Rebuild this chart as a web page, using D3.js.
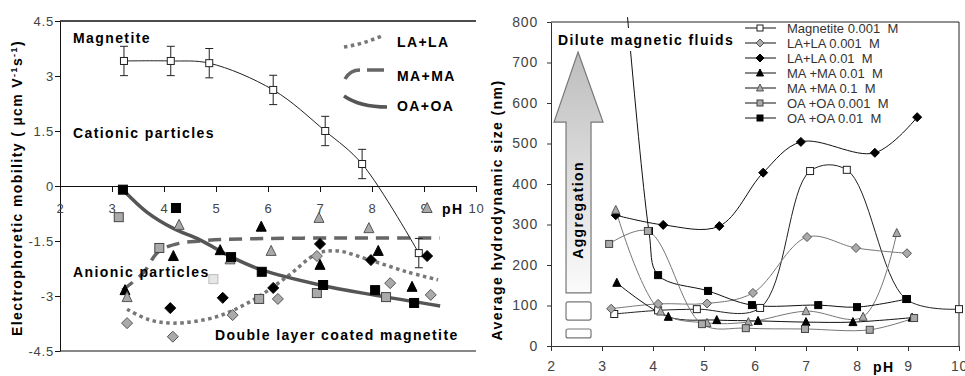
<!DOCTYPE html>
<html>
<head>
<meta charset="utf-8">
<script src="https://cdn.jsdelivr.net/npm/d3@7"></script>
<style>
  body { margin: 0; background: #fff; }
  svg text { font-family: Arial, "Liberation Sans", sans-serif; }
  .bold { font-weight: bold; font-size: 14px; letter-spacing: 1.4px; fill: #000; }
</style>
</head>
<body>
<svg id="chart" width="965" height="376"></svg>
<script>
// ---- left panel: electrophoretic mobility vs pH ----
var pHTicks = [2, 3, 4, 5, 6, 7, 8, 9, 10];
var mobTicks = [-4.5, -3, -1.5, 0, 1.5, 3, 4.5];
var mobMagnetite = [[3.23, 3.41], [4.13, 3.41], [4.87, 3.35], [6.1, 2.62], [7.1, 1.5], [7.81, 0.6], [8.9, -1.83]];
var mobError = 0.4;
var mobLA0001 = [[3.29, -3.74], [4.17, -4.11], [5.32, -3.52], [6.19, -3.08], [6.94, -1.91], [8.35, -2.65], [9.13, -2.97]];
var mobLA001 = [[4.12, -3.33], [5.13, -3.05], [6.1, -2.78], [7.0, -1.58], [7.98, -2.02], [9.06, -1.91]];
var mobMA001 = [[3.25, -2.84], [4.18, -1.91], [5.08, -1.75], [5.87, -1.11], [7.0, -2.15], [8.12, -1.77], [8.77, -2.75]];
var mobMA01 = [[3.29, -3.03], [4.29, -1.06], [5.27, -2.0], [6.06, -1.77], [6.98, -0.87], [7.94, -1.15], [9.06, -0.6]];
var mobOA0001 = [[3.13, -0.85], [3.91, -1.69], [5.83, -3.08], [6.94, -2.92], [8.27, -3.03]];
var mobOA0001light = [[4.95, -2.54]];
var mobOA001 = [[3.21, -0.1], [4.23, -0.6], [5.29, -1.94], [5.88, -2.34], [7.06, -2.7], [8.06, -2.84], [8.81, -3.19]];
// hand drawn trend curves
var fitLA = [[3.29, -3.36], [3.7, -3.64], [4.17, -3.74], [5.0, -3.57], [5.71, -3.11], [6.37, -2.47], [6.94, -1.85], [7.33, -1.77], [7.96, -2.02], [8.67, -2.34], [9.27, -2.56]];
var fitMA = [[3.2, -2.84], [3.6, -2.37], [3.9, -1.78], [4.3, -1.56], [4.7, -1.5], [5.1, -1.46], [6, -1.43], [7, -1.42], [8, -1.42], [9.3, -1.42]];
var fitOA = [[3.21, -0.1], [3.67, -0.71], [4.17, -1.15], [4.69, -1.47], [5.33, -1.96], [5.88, -2.29], [7.0, -2.7], [8.02, -2.97], [9.31, -3.27]];

// ---- right panel: hydrodynamic size vs pH ----
var sizeTicks = [0, 100, 200, 300, 400, 500, 600, 700, 800];
var sizeMagnetite = [[3.24, 79], [4.1, 88], [4.86, 91], [6.1, 94], [7.08, 432], [7.8, 435], [8.96, 116], [10, 91]];
var sizeLA0001 = [[3.18, 92], [4.1, 104], [5.06, 105], [5.96, 131], [7.02, 269], [7.98, 242], [8.98, 229]];
var sizeLA001 = [[3.27, 323], [4.2, 299], [5.3, 296], [6.16, 428], [6.9, 504], [8.35, 477], [9.18, 565]];
var sizeMA001 = [[3.29, 156], [4.3, 72], [5.25, 64], [6.06, 62], [7.0, 59], [7.92, 59], [9.08, 70]];
var sizeMA01 = [[3.27, 336], [4.15, 85], [5.06, 57], [5.87, 59], [7.0, 86], [8.12, 72], [8.78, 279]];
var sizeOA0001 = [[3.14, 252], [3.9, 284], [4.96, 54], [5.82, 44], [6.98, 42], [8.25, 40], [9.12, 69]];
var sizeOA001 = [[3.27, 1150], [3.92, 284], [4.1, 175], [5.08, 136], [5.94, 101], [7.24, 101], [8.0, 96], [8.98, 116]];
var legendNames = ["Magnetite 0.001  M", "LA+LA 0.001  M", "LA+LA 0.01  M", "MA +MA 0.01  M", "MA +MA 0.1  M", "OA +OA 0.001  M", "OA +OA 0.01  M"];

var svg = d3.select("#chart");

// marker helper
function marker(g, shape, x, y, s, fill, stroke) {
  var h = s / 2;
  if (shape == "square") {
    g.append("rect").attr("x", x - h).attr("y", y - h).attr("width", s).attr("height", s)
      .attr("fill", fill).attr("stroke", stroke).attr("stroke-width", 1);
  } else if (shape == "diamond") {
    h = h + 1;
    g.append("polygon").attr("points", [[x, y - h], [x + h, y], [x, y + h], [x - h, y]].join(" "))
      .attr("fill", fill).attr("stroke", stroke).attr("stroke-width", 1);
  } else {
    g.append("polygon").attr("points", [[x, y - h - 1], [x + h + 0.5, y + h], [x - h - 0.5, y + h]].join(" "))
      .attr("fill", fill).attr("stroke", stroke).attr("stroke-width", 1);
  }
}

// ===================== LEFT PANEL =====================
var xL = d3.scaleLinear().domain([2, 10]).range([60, 476]);
var yL = d3.scaleLinear().domain([-4.5, 4.5]).range([351, 21]);
var left = svg.append("g");

// frame
left.append("line").attr("x1", xL(2)).attr("x2", xL(10)).attr("y1", yL(4.5)).attr("y2", yL(4.5))
  .attr("stroke", "#111").attr("stroke-width", 1.3);
left.append("line").attr("x1", xL(2)).attr("x2", xL(10)).attr("y1", yL(-4.5)).attr("y2", yL(-4.5))
  .attr("stroke", "#888").attr("stroke-width", 2);

var axLy = left.append("g").attr("transform", "translate(" + xL(2) + ",0)")
  .call(d3.axisLeft(yL).tickValues(mobTicks).tickSize(5).tickSizeOuter(0).tickPadding(1)
    .tickFormat(function (d) { return d; }));
var axLx = left.append("g").attr("transform", "translate(0," + yL(0) + ")")
  .call(d3.axisBottom(xL).tickValues(pHTicks).tickSize(6).tickSizeOuter(0).tickPadding(12));
[axLy, axLx].forEach(function (ax) {
  ax.select(".domain").attr("stroke", "#111");
  ax.selectAll(".tick line").attr("stroke", "#111");
  ax.selectAll("text").attr("font-size", 13).attr("fill", "#444").attr("letter-spacing", "0.8px");
});

// trend curves
var lineL = d3.line().x(function (d) { return xL(d[0]); }).y(function (d) { return yL(d[1]); })
  .curve(d3.curveCatmullRom.alpha(0.5));
left.append("path").attr("d", lineL(fitLA)).attr("fill", "none").attr("stroke", "#777")
  .attr("stroke-width", 3.5).attr("stroke-dasharray", "3.5 3.5");
left.append("path").attr("d", lineL(fitMA)).attr("fill", "none").attr("stroke", "#666")
  .attr("stroke-width", 3.5).attr("stroke-dasharray", "13 8");
left.append("path").attr("d", lineL(fitOA)).attr("fill", "none").attr("stroke", "#555")
  .attr("stroke-width", 3.5);

// magnetite with error bars
left.append("path").attr("d", lineL(mobMagnetite)).attr("fill", "none").attr("stroke", "#222").attr("stroke-width", 1);
mobMagnetite.forEach(function (d) {
  var x = xL(d[0]);
  left.append("line").attr("x1", x).attr("x2", x).attr("y1", yL(d[1] - mobError)).attr("y2", yL(d[1] + mobError))
    .attr("stroke", "#222");
  [d[1] - mobError, d[1] + mobError].forEach(function (v) {
    left.append("line").attr("x1", x - 4).attr("x2", x + 4).attr("y1", yL(v)).attr("y2", yL(v)).attr("stroke", "#222");
  });
  marker(left, "square", x, yL(d[1]), 7, "#fff", "#222");
});

var leftSeries = [
  [mobLA0001, "diamond", "#aaa", "#555"],
  [mobLA001, "diamond", "#000", "#000"],
  [mobMA001, "triangle", "#000", "#000"],
  [mobMA01, "triangle", "#aaa", "#555"],
  [mobOA0001, "square", "#aaa", "#444"],
  [mobOA0001light, "square", "#e6e6e6", "#bbb"],
  [mobOA001, "square", "#000", "#000"]
];
leftSeries.forEach(function (s) {
  s[0].forEach(function (d) { marker(left, s[1], xL(d[0]), yL(d[1]), 9, s[2], s[3]); });
});

// texts
left.append("text").attr("class", "bold").attr("x", 73).attr("y", 43).text("Magnetite");
left.append("text").attr("class", "bold").attr("x", 73).attr("y", 138).text("Cationic particles");
left.append("text").attr("class", "bold").attr("x", 73).attr("y", 277).text("Anionic particles");
left.append("text").attr("class", "bold").attr("x", 215).attr("y", 340).text("Double layer coated magnetite");
left.append("text").attr("class", "bold").attr("x", 442).attr("y", 214).attr("font-size", 15).text("pH");

// legend of trend curves
left.append("path").attr("d", "M344,47 Q364,44 384,35").attr("fill", "none").attr("stroke", "#777")
  .attr("stroke-width", 3.5).attr("stroke-dasharray", "3.5 3.5");
left.append("path").attr("d", "M345,79 Q350,70 360,70 M367,70 L384,70").attr("fill", "none").attr("stroke", "#666")
  .attr("stroke-width", 3.5);
left.append("path").attr("d", "M344,96 Q360,107 387,107").attr("fill", "none").attr("stroke", "#555")
  .attr("stroke-width", 3.5);
left.append("text").attr("class", "bold").attr("x", 397).attr("y", 47).attr("letter-spacing", "0.5px").text("LA+LA");
left.append("text").attr("class", "bold").attr("x", 397).attr("y", 81).attr("letter-spacing", "0.5px").text("MA+MA");
left.append("text").attr("class", "bold").attr("x", 397).attr("y", 111).attr("letter-spacing", "0.5px").text("OA+OA");

// y label
var yLabL = left.append("text").attr("class", "bold").attr("text-anchor", "middle")
  .attr("transform", "translate(22,188) rotate(-90)");
yLabL.append("tspan").text("Electrophoretic mobility ( µcm V");
yLabL.append("tspan").attr("font-size", 9).attr("dy", -5).text("-1");
yLabL.append("tspan").attr("dy", 5).text("s");
yLabL.append("tspan").attr("font-size", 9).attr("dy", -5).text("-1");
yLabL.append("tspan").attr("dy", 5).text(")");

// ===================== RIGHT PANEL =====================
var xR = d3.scaleLinear().domain([2, 10]).range([551, 959]);
var yR = d3.scaleLinear().domain([0, 800]).range([346, 22]);
var right = svg.append("g");

right.append("line").attr("x1", xR(2)).attr("x2", xR(10)).attr("y1", yR(800)).attr("y2", yR(800)).attr("stroke", "#222");
right.append("line").attr("x1", xR(10)).attr("x2", xR(10)).attr("y1", yR(800)).attr("y2", yR(0)).attr("stroke", "#222");

var axRy = right.append("g").attr("transform", "translate(" + xR(2) + ",0)")
  .call(d3.axisLeft(yR).tickValues(sizeTicks).tickSize(4).tickSizeOuter(0).tickPadding(9));
var axRx = right.append("g").attr("transform", "translate(0," + yR(0) + ")")
  .call(d3.axisBottom(xR).tickValues(pHTicks).tickSize(5).tickSizeOuter(0).tickPadding(10));
[axRy, axRx].forEach(function (ax) {
  ax.select(".domain").attr("stroke", "#333");
  ax.selectAll(".tick line").attr("stroke", "#333");
  ax.selectAll("text").attr("font-size", 14).attr("fill", "#444").attr("letter-spacing", "0.8px");
});

// aggregation arrow (drawn in data units)
var ax0 = xR(2.53);
var arrowPts = [[ax0, yR(726)], [ax0 + 25, yR(553)], [ax0 + 13, yR(553)], [ax0 + 13, yR(131)],
  [ax0 - 12, yR(131)], [ax0 - 12, yR(553)], [ax0 - 24, yR(553)]];
var grad = svg.append("defs").append("linearGradient").attr("id", "agg").attr("x1", 0).attr("x2", 0).attr("y1", 0).attr("y2", 1);
grad.append("stop").attr("offset", "0%").attr("stop-color", "#bdbdbd");
grad.append("stop").attr("offset", "100%").attr("stop-color", "#fbfbfb");
svg.select("defs").append("clipPath").attr("id", "topclip").append("rect")
  .attr("x", 540).attr("y", 17).attr("width", 430).attr("height", 340);
right.append("polygon").attr("points", arrowPts.join(" ")).attr("fill", "url(#agg)").attr("stroke", "#777").attr("stroke-width", 1.2);
right.append("text").attr("class", "bold").attr("font-size", 13).attr("text-anchor", "middle")
  .attr("transform", "translate(" + (ax0 + 5) + "," + yR(336) + ") rotate(-90)").text("Aggregation");
right.append("rect").attr("x", ax0 - 12).attr("y", yR(109)).attr("width", 25).attr("height", yR(64) - yR(109))
  .attr("rx", 2).attr("fill", "#fff").attr("stroke", "#777").attr("stroke-width", 1.2);
right.append("rect").attr("x", ax0 - 12).attr("y", yR(42)).attr("width", 25).attr("height", yR(20) - yR(42))
  .attr("rx", 2).attr("fill", "#fff").attr("stroke", "#777").attr("stroke-width", 1.2);

var rightSeries = [
  [sizeMagnetite, "square", "#fff", "#222", "#222"],
  [sizeLA0001, "diamond", "#aaa", "#555", "#777"],
  [sizeLA001, "diamond", "#000", "#000", "#111"],
  [sizeMA001, "triangle", "#000", "#000", "#111"],
  [sizeMA01, "triangle", "#aaa", "#555", "#777"],
  [sizeOA001, "square", "#000", "#000", "#111"],
  [sizeOA0001, "square", "#aaa", "#444", "#777"]
];
var lineR = d3.line().x(function (d) { return xR(d[0]); }).y(function (d) { return yR(d[1]); })
  .curve(d3.curveCatmullRom.alpha(0.5));
var linesG = right.append("g").attr("clip-path", "url(#topclip)");
rightSeries.forEach(function (s) {
  linesG.append("path").attr("d", lineR(s[0])).attr("fill", "none").attr("stroke", s[4]).attr("stroke-width", 1);
});
rightSeries.forEach(function (s) {
  s[0].forEach(function (d) {
    if (d[1] <= 800) marker(right, s[1], xR(d[0]), yR(d[1]), 7, s[2], s[3]);
  });
});

// title box
right.append("rect").attr("x", 556).attr("y", 28).attr("width", 184).attr("height", 23).attr("fill", "#fff");
right.append("text").attr("class", "bold").attr("x", 558).attr("y", 45).text("Dilute magnetic fluids");
right.append("text").attr("class", "bold").attr("x", 873).attr("y", 372).attr("font-size", 15).attr("letter-spacing", "0.5px").text("pH");

// legend
var legendSeries = [rightSeries[0], rightSeries[1], rightSeries[2], rightSeries[3], rightSeries[4], rightSeries[6], rightSeries[5]];
legendNames.forEach(function (name, i) {
  var y = 28 + i * 15;
  var s = legendSeries[i];
  right.append("line").attr("x1", 745).attr("x2", 776).attr("y1", y).attr("y2", y).attr("stroke", "#111");
  marker(right, s[1], 760, y, 6, s[2], s[3]);
  right.append("text").attr("x", 787).attr("y", y + 5).attr("font-size", 13).attr("fill", "#333")
    .attr("xml:space", "preserve").style("white-space", "pre").text(name);
});

// y label
right.append("text").attr("class", "bold").attr("text-anchor", "middle")
  .attr("transform", "translate(502,210) rotate(-90)").text("Average hydrodynamic size (nm)");
</script>
</body>
</html>
